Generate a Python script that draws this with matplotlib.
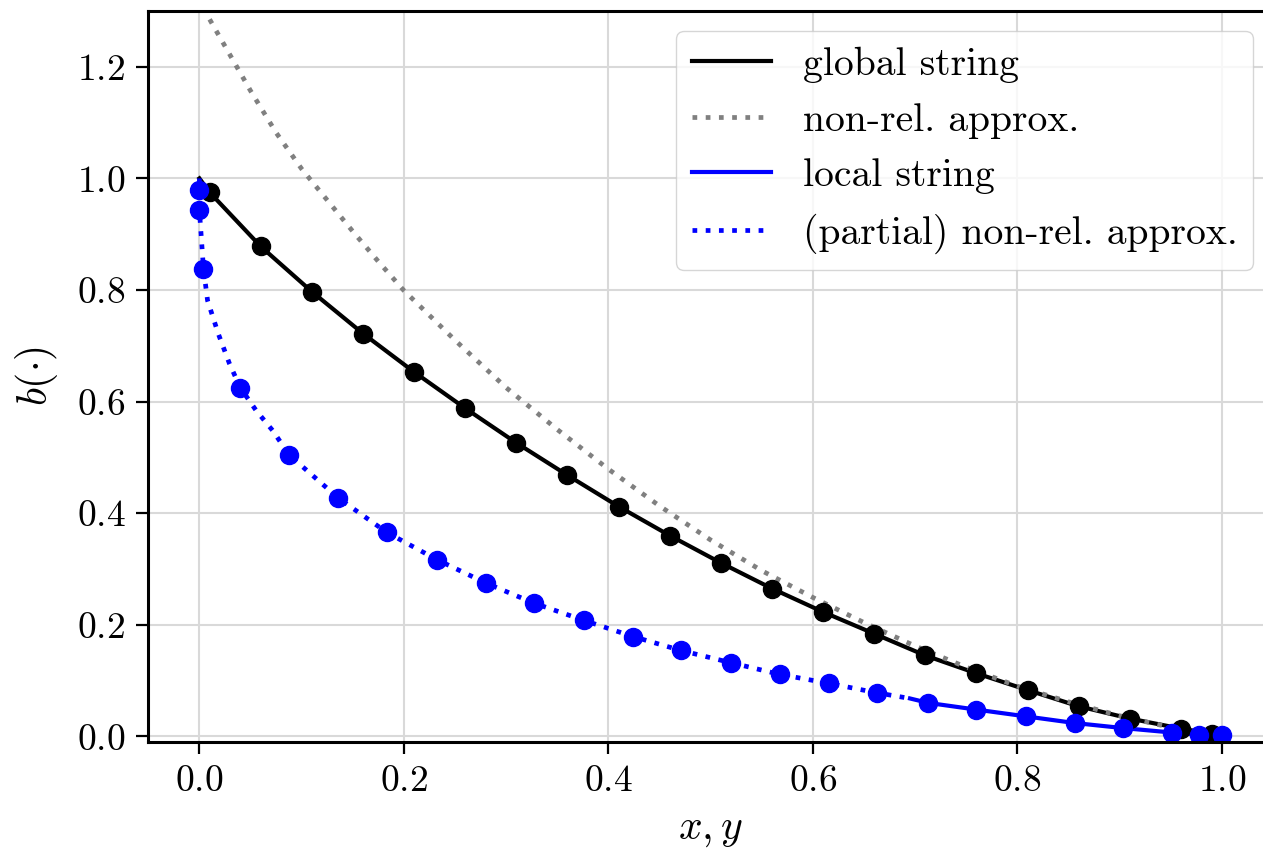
import matplotlib
matplotlib.use("Agg")
import matplotlib.pyplot as plt

plt.rcParams.update({
    "font.family": "serif",
    "font.serif": ["cmr10"],
    "mathtext.fontset": "cm",
    "axes.formatter.use_mathtext": True,
})

# global string: curve and sampled points
glob_x = [0.0, 0.01, 0.06, 0.11, 0.16, 0.21, 0.26, 0.31, 0.36, 0.41, 0.46, 0.51,
          0.56, 0.61, 0.66, 0.71, 0.76, 0.81, 0.86, 0.91, 0.96, 0.99, 1.0]
glob_b = [1.0, 0.975, 0.878, 0.797, 0.722, 0.653, 0.588, 0.526, 0.468, 0.412, 0.360,
          0.311, 0.265, 0.223, 0.184, 0.145, 0.113, 0.083, 0.054, 0.032, 0.014, 0.005, 0.0]

# non-relativistic approximation of the global string
nr_x = [0.01, 0.025, 0.05, 0.075, 0.10, 0.125, 0.15, 0.175, 0.20, 0.25, 0.30, 0.35,
        0.40, 0.45, 0.50, 0.55, 0.60, 0.65, 0.70, 0.75, 0.80, 0.85, 0.90, 0.95, 1.0]
nr_b = [1.285, 1.237, 1.157, 1.082, 1.017, 0.961, 0.905, 0.851, 0.799, 0.710, 0.625,
        0.550, 0.479, 0.413, 0.352, 0.297, 0.249, 0.204, 0.162, 0.124, 0.090, 0.062,
        0.037, 0.016, 0.0]

# local string sampled points
loc_y = [0.0, 0.0, 0.004, 0.040, 0.088, 0.136, 0.183, 0.232, 0.280, 0.327, 0.376,
         0.424, 0.471, 0.520, 0.568, 0.616, 0.663, 0.713, 0.760, 0.808, 0.856, 0.903,
         0.951, 0.978, 1.0]
loc_b = [0.979, 0.943, 0.838, 0.625, 0.504, 0.427, 0.366, 0.317, 0.275, 0.239, 0.208,
         0.179, 0.154, 0.132, 0.111, 0.095, 0.078, 0.060, 0.048, 0.036, 0.024, 0.015,
         0.007, 0.003, 0.002]

# (partial) non-relativistic approximation, small y
pnr_y = [0.0, 0.0, 0.0, 0.004, 0.008, 0.0186, 0.0294, 0.040, 0.0555, 0.0717, 0.088,
         0.136, 0.183, 0.232, 0.280, 0.327, 0.376, 0.424, 0.471, 0.520, 0.568, 0.616,
         0.663, 0.695]
pnr_b = [1.0, 0.979, 0.943, 0.838, 0.781, 0.721, 0.668, 0.625, 0.584, 0.548, 0.504,
         0.427, 0.366, 0.317, 0.275, 0.239, 0.208, 0.179, 0.154, 0.132, 0.111, 0.095,
         0.078, 0.068]

# exact local string, large y
lex_y = [0.695, 0.713, 0.760, 0.808, 0.856, 0.903, 0.951, 0.978, 1.0]
lex_b = [0.068, 0.060, 0.048, 0.036, 0.024, 0.015, 0.007, 0.003, 0.002]

fig = plt.figure(figsize=(12.63, 8.57), dpi=100)
ax = fig.add_axes([0.1174, 0.1342, 0.8905, 0.853])

lw = 3.0
dots = (0, (1, 1.8))
ax.plot(glob_x, glob_b, color="black", lw=lw, label="global string")
ax.plot(nr_x, nr_b, color="gray", lw=3.4, ls=dots, label="non-rel. approx.")
ax.plot(lex_y, lex_b, color="blue", lw=lw, label="local string")
ax.plot(pnr_y, pnr_b, color="blue", lw=3.4, ls=dots, label="(partial) non-rel. approx.")
ax.plot(glob_x[1:-1], glob_b[1:-1], "o", color="black", ms=13)
ax.plot(loc_y, loc_b, "o", color="blue", ms=13)

ax.set_xlim(-0.05, 1.05)
ax.set_ylim(-0.01, 1.3)
ax.set_xticks([0.0, 0.2, 0.4, 0.6, 0.8, 1.0])
ax.set_yticks([0.0, 0.2, 0.4, 0.6, 0.8, 1.0, 1.2])
ax.grid(True, color="#d9d9d9", lw=1.5)
ax.set_axisbelow(True)
for s in ax.spines.values():
    s.set_linewidth(2.2)
ax.tick_params(labelsize=27, length=8.5, width=1.6, pad=8)
ax.set_xlabel(r"$x, y$", fontsize=30, labelpad=10)
ax.set_ylabel(r"$b(\cdot)$", fontsize=30, labelpad=12)

ax.legend(loc="upper right", fontsize=28.5, handlelength=2.0)

fig.savefig("out.png", dpi=100)
